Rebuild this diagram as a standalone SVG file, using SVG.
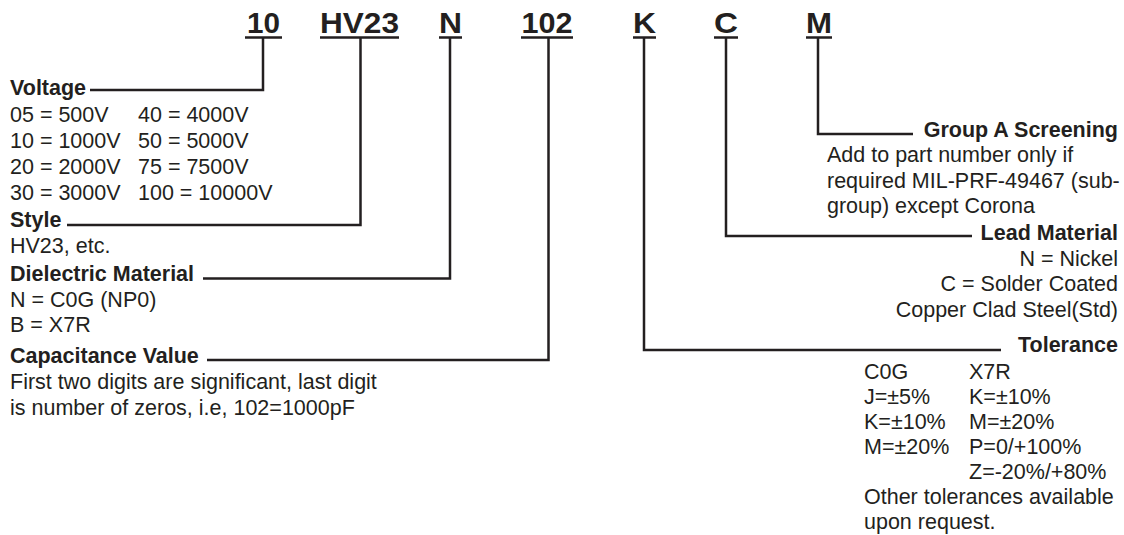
<svg xmlns="http://www.w3.org/2000/svg" width="1124" height="535" viewBox="0 0 1124 535">
<style>
text{font-family:"Liberation Sans",Arial,sans-serif;fill:#231f20;font-size:21.5px}
.b{font-weight:bold}
.t{font-weight:bold;font-size:30px;text-anchor:middle}
.r{text-anchor:end}
.ln{fill:none;stroke:#231f20;stroke-width:2.5}
</style>
<rect width="1124" height="535" fill="#fff"/>
<g id="codes">
<text class="t" x="263.5" y="33" textLength="33" lengthAdjust="spacingAndGlyphs">10</text>
<text class="t" x="359.5" y="33" textLength="79" lengthAdjust="spacingAndGlyphs">HV23</text>
<text class="t" x="450.5" y="33" textLength="23" lengthAdjust="spacingAndGlyphs">N</text>
<text class="t" x="547" y="33" textLength="51" lengthAdjust="spacingAndGlyphs">102</text>
<text class="t" x="644.5" y="33" textLength="23" lengthAdjust="spacingAndGlyphs">K</text>
<text class="t" x="726" y="33" textLength="24" lengthAdjust="spacingAndGlyphs">C</text>
<text class="t" x="819" y="33" textLength="26" lengthAdjust="spacingAndGlyphs">M</text>
</g>
<g id="connectors">
<path class="ln" d="M245 37.5H282M320 37.5H399M439 37.5H462M521 37.5H573M633 37.5H656M714 37.5H738M806 37.5H832"/>
<path class="ln" d="M263 37.5V90H90"/>
<path class="ln" d="M360.5 37.5V225H67"/>
<path class="ln" d="M450 37.5V278.5H203"/>
<path class="ln" d="M548.5 37.5V360H207"/>
<path class="ln" d="M818 37.5V134H913"/>
<path class="ln" d="M726 37.5V236H972"/>
<path class="ln" d="M644 37.5V350H1001"/>
</g>
<g id="voltage">
<text class="b" x="10" y="95">Voltage</text>
<text x="10" y="121.5">05 = 500V</text>
<text x="138" y="121.5">40 = 4000V</text>
<text x="10" y="147.5">10 = 1000V</text>
<text x="138" y="147.5">50 = 5000V</text>
<text x="10" y="173.5">20 = 2000V</text>
<text x="138" y="173.5">75 = 7500V</text>
<text x="10" y="200">30 = 3000V</text>
<text x="138" y="200">100 = 10000V</text>
</g>
<g id="style">
<text class="b" x="10" y="227">Style</text>
<text x="10" y="253">HV23, etc.</text>
</g>
<g id="dielectric">
<text class="b" x="10" y="281">Dielectric Material</text>
<text x="10" y="307">N = C0G (NP0)</text>
<text x="10" y="332">B = X7R</text>
</g>
<g id="capacitance">
<text class="b" x="10" y="363">Capacitance Value</text>
<text x="10" y="389">First two digits are significant, last digit</text>
<text x="10" y="415">is number of zeros, i.e, 102=1000pF</text>
</g>
<g id="screening">
<text class="b r" x="1118" y="137">Group A Screening</text>
<text x="827" y="162">Add to part number only if</text>
<text x="827" y="188">required MIL-PRF-49467 (sub-</text>
<text x="827" y="213">group) except Corona</text>
</g>
<g id="lead">
<text class="b r" x="1118" y="240">Lead Material</text>
<text class="r" x="1118" y="266">N = Nickel</text>
<text class="r" x="1118" y="291">C = Solder Coated</text>
<text class="r" x="1118" y="317">Copper Clad Steel(Std)</text>
</g>
<g id="tolerance">
<text class="b r" x="1118" y="352">Tolerance</text>
<text x="864" y="379">C0G</text>
<text x="969" y="379">X7R</text>
<text x="864" y="404">J=±5%</text>
<text x="969" y="404">K=±10%</text>
<text x="864" y="429">K=±10%</text>
<text x="969" y="429">M=±20%</text>
<text x="864" y="454">M=±20%</text>
<text x="969" y="454">P=0/+100%</text>
<text x="969" y="479">Z=-20%/+80%</text>
<text x="864" y="504">Other tolerances available</text>
<text x="864" y="529">upon request.</text>
</g>
</svg>
